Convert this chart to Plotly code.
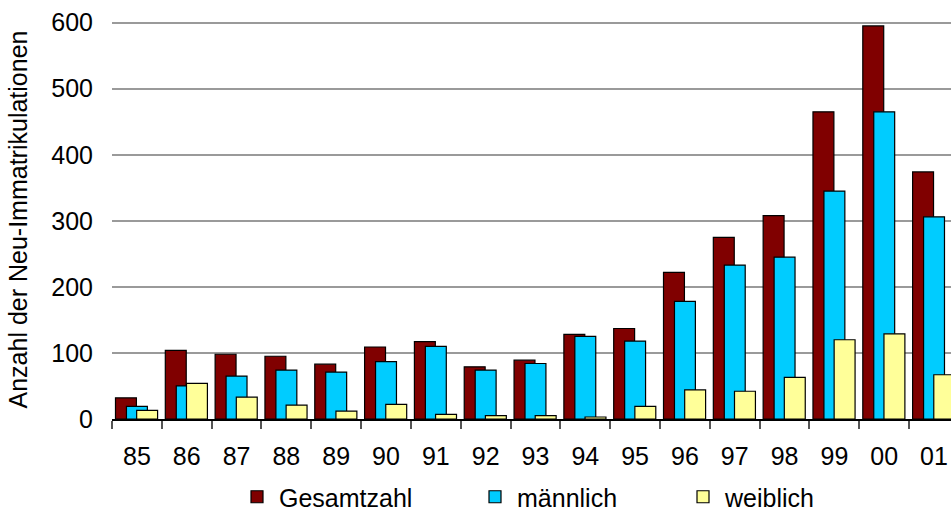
import plotly.graph_objects as go

years = ["85", "86", "87", "88", "89", "90", "91", "92", "93", "94", "95",
         "96", "97", "98", "99", "00", "01"]
gesamt = [32, 104, 98, 95, 83, 109, 117, 79, 89, 128, 137, 222, 275, 308, 465, 595, 374]
maennlich = [19, 50, 65, 74, 71, 87, 110, 74, 84, 125, 118, 178, 233, 245, 345, 465, 306]
weiblich = [13, 54, 33, 21, 12, 22, 7, 5, 5, 3, 19, 44, 42, 63, 120, 129, 67]
y_ticks = [0, 100, 200, 300, 400, 500, 600]

FONT = "Liberation Sans, Arial, Helvetica, sans-serif"
W, H = 951, 512
L, T, B = 112, 20, 93
cat_w = 49.82
x_end = -0.5 + (W - L) / cat_w

fig = go.Figure()
series = [
    ("Gesamtzahl", gesamt, "#800000", -0.43, "legend"),
    ("männlich", maennlich, "#00CCFF", -0.21, "legend2"),
    ("weiblich", weiblich, "#FFFF99", -0.005, "legend3"),
]
for name, vals, col, off, lg in series:
    fig.add_trace(go.Bar(
        x=years, y=vals, name=name,
        width=0.42, offset=off,
        marker=dict(color=col, line=dict(color="#000000", width=1.2)),
        legend=lg,
    ))

leg_common = dict(orientation="h", xref="container", yref="container",
                  xanchor="left", yanchor="middle", bgcolor="rgba(0,0,0,0)",
                  borderwidth=0, itemwidth=34,
                  font=dict(family=FONT, size=25, color="#000"))
leg_y = 1 - 497 / H
fig.update_layout(
    width=W, height=H,
    margin=dict(l=L, r=0, t=T, b=B, autoexpand=False),
    paper_bgcolor="white", plot_bgcolor="white",
    barmode="overlay",
    showlegend=True,
    legend=dict(x=(257 - 22) / W, y=leg_y, **leg_common),
    legend2=dict(x=(495 - 22) / W, y=leg_y, **leg_common),
    legend3=dict(x=(703 - 22) / W, y=leg_y, **leg_common),
    font=dict(family=FONT, size=25, color="#000"),
    xaxis=dict(
        type="category", range=[-0.5, x_end],
        showline=True, linecolor="#000000", linewidth=1.5,
        ticks="outside", ticklen=8, tickcolor="#555555", tickwidth=1.5,
        tickson="boundaries", showgrid=False,
        tickfont=dict(family=FONT, size=25, color="#000"),
        ticklabelstandoff=14,
    ),
    yaxis=dict(
        range=[0, 604], tickvals=y_ticks,
        showgrid=True, gridcolor="#9a9a9a", gridwidth=2,
        zeroline=False, showline=False, ticks="",
        tickfont=dict(family=FONT, size=25, color="#000"),
        ticklabelstandoff=18,
        title=dict(text="Anzahl der Neu-Immatrikulationen",
                   font=dict(family=FONT, size=25, color="#000"), standoff=16),
    ),
)

fig.write_html("out.html", config={"displayModeBar": False},
               post_script="document.body.style.margin='0';document.body.style.overflow='hidden';")
